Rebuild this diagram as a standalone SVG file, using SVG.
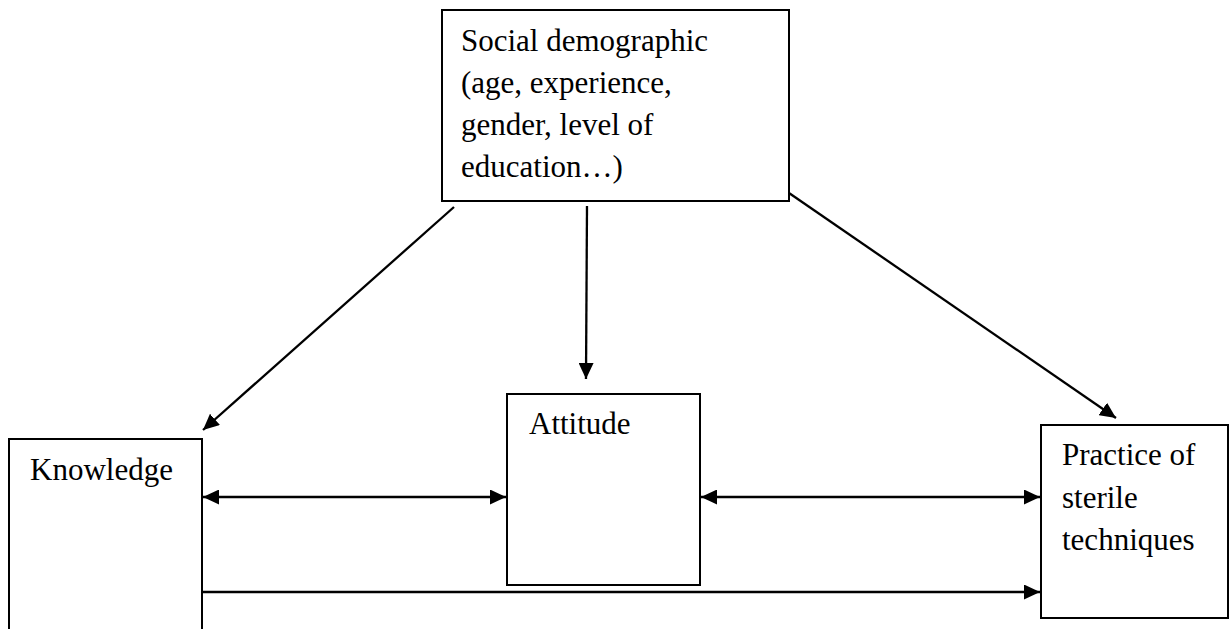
<svg xmlns="http://www.w3.org/2000/svg" width="1231" height="629" viewBox="0 0 1231 629">
<style>
.box{fill:#fff;stroke:#000;stroke-width:2}
.lbl{font-family:"Liberation Serif","Times New Roman",serif;font-size:31px;fill:#000}
.conn{stroke:#000;stroke-width:2.3;fill:none}
</style>
<defs>
<marker id="ah" markerUnits="userSpaceOnUse" markerWidth="16" markerHeight="15" refX="16" refY="7.5" orient="auto-start-reverse">
<path d="M0,0 L16,7.5 L0,15 z" fill="#000"/>
</marker>
</defs>
<rect width="1231" height="629" fill="#fff"/>
<g id="node-social">
<rect class="box" x="442" y="10" width="347" height="191"/>
<text class="lbl" x="461" y="51">Social demographic</text>
<text class="lbl" x="461" y="93">(age, experience,</text>
<text class="lbl" x="461" y="135">gender, level of</text>
<text class="lbl" x="461" y="177">education…)</text>
</g>
<g id="node-knowledge">
<rect class="box" x="9" y="439" width="193" height="200"/>
<text class="lbl" x="30" y="480">Knowledge</text>
</g>
<g id="node-attitude">
<rect class="box" x="507" y="394" width="193" height="191"/>
<text class="lbl" x="529" y="434">Attitude</text>
</g>
<g id="node-practice">
<rect class="box" x="1041" y="425" width="187" height="193"/>
<text class="lbl" x="1062" y="465">Practice of</text>
<text class="lbl" x="1062" y="508">sterile</text>
<text class="lbl" x="1062" y="550">techniques</text>
</g>
<g id="connectors">
<line class="conn" x1="454" y1="207" x2="203" y2="430" marker-end="url(#ah)"/>
<line class="conn" x1="587" y1="206" x2="586" y2="379" marker-end="url(#ah)"/>
<line class="conn" x1="789" y1="193" x2="1116" y2="418" marker-end="url(#ah)"/>
<line class="conn" x1="203" y1="497" x2="506" y2="497" marker-start="url(#ah)" marker-end="url(#ah)"/>
<line class="conn" x1="701" y1="497" x2="1040" y2="497" marker-start="url(#ah)" marker-end="url(#ah)"/>
<line class="conn" x1="203" y1="592" x2="1040" y2="592" marker-end="url(#ah)"/>
</g>
</svg>
